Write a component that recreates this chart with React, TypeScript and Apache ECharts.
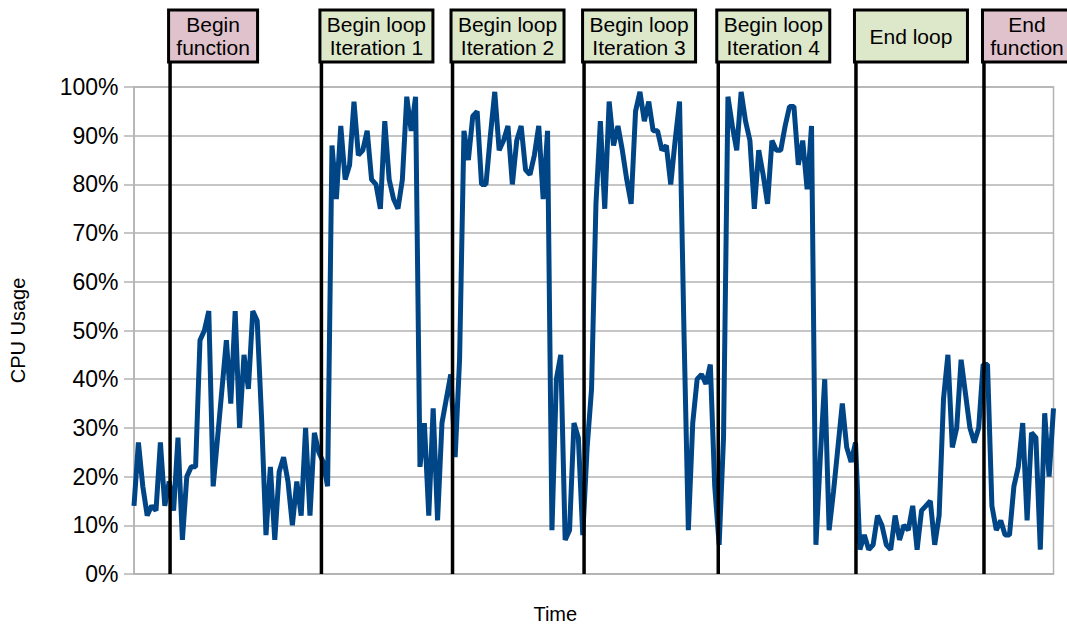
import React, { useEffect, useRef } from "react";
import * as echarts from "echarts";

// CPU usage (%) sampled over time
const cpuUsage: number[] = [
  14, 27, 18, 12, 14, 13, 27, 14, 19, 13,
  28, 7, 20, 22, 22, 48, 50, 54, 18, 28,
  38, 48, 35, 54, 30, 45, 38, 54, 52, 32,
  8, 22, 7, 21, 24, 19, 10, 19, 12, 30,
  12, 29, 25, 23, 18, 88, 77, 92, 81, 84,
  97, 86, 87, 91, 81, 80, 75, 93, 81, 77,
  75, 81, 98, 91, 98, 22, 31, 12, 34, 11,
  31, 36, 41, 24, 44, 91, 85, 94, 95, 80,
  80, 90, 99, 87, 89, 92, 80, 89, 92, 83,
  82, 86, 92, 77, 91, 9, 40, 45, 7, 9,
  31, 28, 8, 26, 38, 76, 93, 75, 97, 88,
  92, 87, 81, 76, 95, 99, 93, 97, 91, 91,
  87, 88, 80, 89, 97, 50, 9, 31, 40, 41,
  39, 43, 18, 6, 28, 98, 92, 87, 99, 93,
  89, 75, 87, 82, 76, 89, 87, 87, 92, 96,
  96, 84, 89, 79, 92, 6, 24, 40, 9, 17,
  26, 35, 26, 23, 27, 5, 8, 5, 6, 12,
  10, 6, 5, 12, 7, 10, 9, 14, 5, 13,
  14, 15, 6, 12, 36, 45, 26, 30, 44, 37,
  30, 27, 30, 43, 43, 14, 9, 11, 8, 8,
  18, 22, 31, 11, 29, 28, 5, 33, 20, 34,
];

// Event markers: label and position on the time axis (sample index)
const markerLabels: string[] = [
  "Begin\nfunction",
  "Begin loop\nIteration 1",
  "Begin loop\nIteration 2",
  "Begin loop\nIteration 3",
  "Begin loop\nIteration 4",
  "End loop",
  "End\nfunction",
];
const markerTimes: number[] = [8.2, 42.6, 72.4, 102.3, 132.8, 164.1, 193.2];
const markerKinds: string[] = ["function", "loop", "loop", "loop", "loop", "loop", "function"];

const FONT = "'Liberation Sans', Arial, Helvetica, sans-serif";

export default function App() {
  const ref = useRef<HTMLDivElement>(null);

  useEffect(() => {
    document.body.style.margin = "0";
    const chart = echarts.init(ref.current!, null, {
      renderer: "svg",
      width: 1067,
      height: 629,
    });
    const grey = "#b3b3b3";
    chart.setOption({
      animation: false,
      backgroundColor: "#ffffff",
      textStyle: { fontFamily: FONT },
      grid: {
        left: 134,
        top: 87,
        width: 919.5,
        height: 493,
        show: true,
        borderColor: grey,
        borderWidth: 1.5,
        backgroundColor: "transparent",
      },
      xAxis: {
        type: "value",
        min: 0,
        max: cpuUsage.length - 1,
        name: "Time",
        nameLocation: "middle",
        nameGap: 30,
        nameTextStyle: {
          fontSize: 20,
          color: "#000",
          fontFamily: FONT,
          padding: [0, 77, 0, 0],
        },
        axisLabel: { show: false },
        axisTick: { show: false },
        splitLine: { show: false },
        axisLine: { show: true, lineStyle: { color: grey, width: 1.5 } },
      },
      yAxis: {
        type: "value",
        min: 0,
        max: 100,
        interval: 10,
        name: "CPU Usage",
        nameLocation: "middle",
        nameGap: 106,
        nameRotate: 90,
        nameTextStyle: { fontSize: 20, color: "#000", fontFamily: FONT },
        axisLabel: {
          formatter: "{value}%",
          fontSize: 23,
          color: "#000",
          margin: 15.5,
          fontFamily: FONT,
        },
        axisTick: { show: true, length: 10, lineStyle: { color: grey, width: 1.5 } },
        axisLine: { show: true, lineStyle: { color: grey, width: 1.5 } },
        splitLine: { show: true, lineStyle: { color: grey, width: 1.5 } },
      },
      series: [
        {
          type: "line",
          data: cpuUsage.map((v, i) => [i, v]),
          showSymbol: false,
          symbol: "none",
          lineStyle: { color: "#004586", width: 5 },
          z: 2,
        },
      ],
    });

    const bottomY = chart.convertToPixel({ yAxisIndex: 0 }, 0) as number;
    const boxTop = 10;
    const boxH = 52;
    const elements: any[] = [];
    markerTimes.forEach((t, i) => {
      const x = chart.convertToPixel({ xAxisIndex: 0 }, t) as number;
      const w = markerKinds[i] === "function" ? 89 : 113;
      const fill = markerKinds[i] === "function" ? "#e0c2cd" : "#dde8cb";
      elements.push({
        type: "line",
        z: 100,
        shape: { x1: x, y1: boxTop + boxH, x2: x, y2: bottomY },
        style: { stroke: "#000", lineWidth: 3.5 },
      });
      elements.push({
        type: "rect",
        z: 101,
        shape: { x: x - 1.5, y: boxTop, width: w, height: boxH },
        style: { fill, stroke: "#000", lineWidth: 3 },
      });
      elements.push({
        type: "text",
        z: 102,
        x: x - 1.5 + w / 2,
        y: boxTop + boxH / 2,
        style: {
          text: markerLabels[i],
          fill: "#000",
          fontSize: 21,
          fontFamily: FONT,
          align: "center",
          verticalAlign: "middle",
          lineHeight: 23.5,
        },
      });
    });
    chart.setOption({ graphic: elements });

    return () => chart.dispose();
  }, []);

  return (
    <div
      ref={ref}
      style={{ position: "fixed", left: 0, top: 0, width: 1067, height: 629 }}
    />
  );
}
